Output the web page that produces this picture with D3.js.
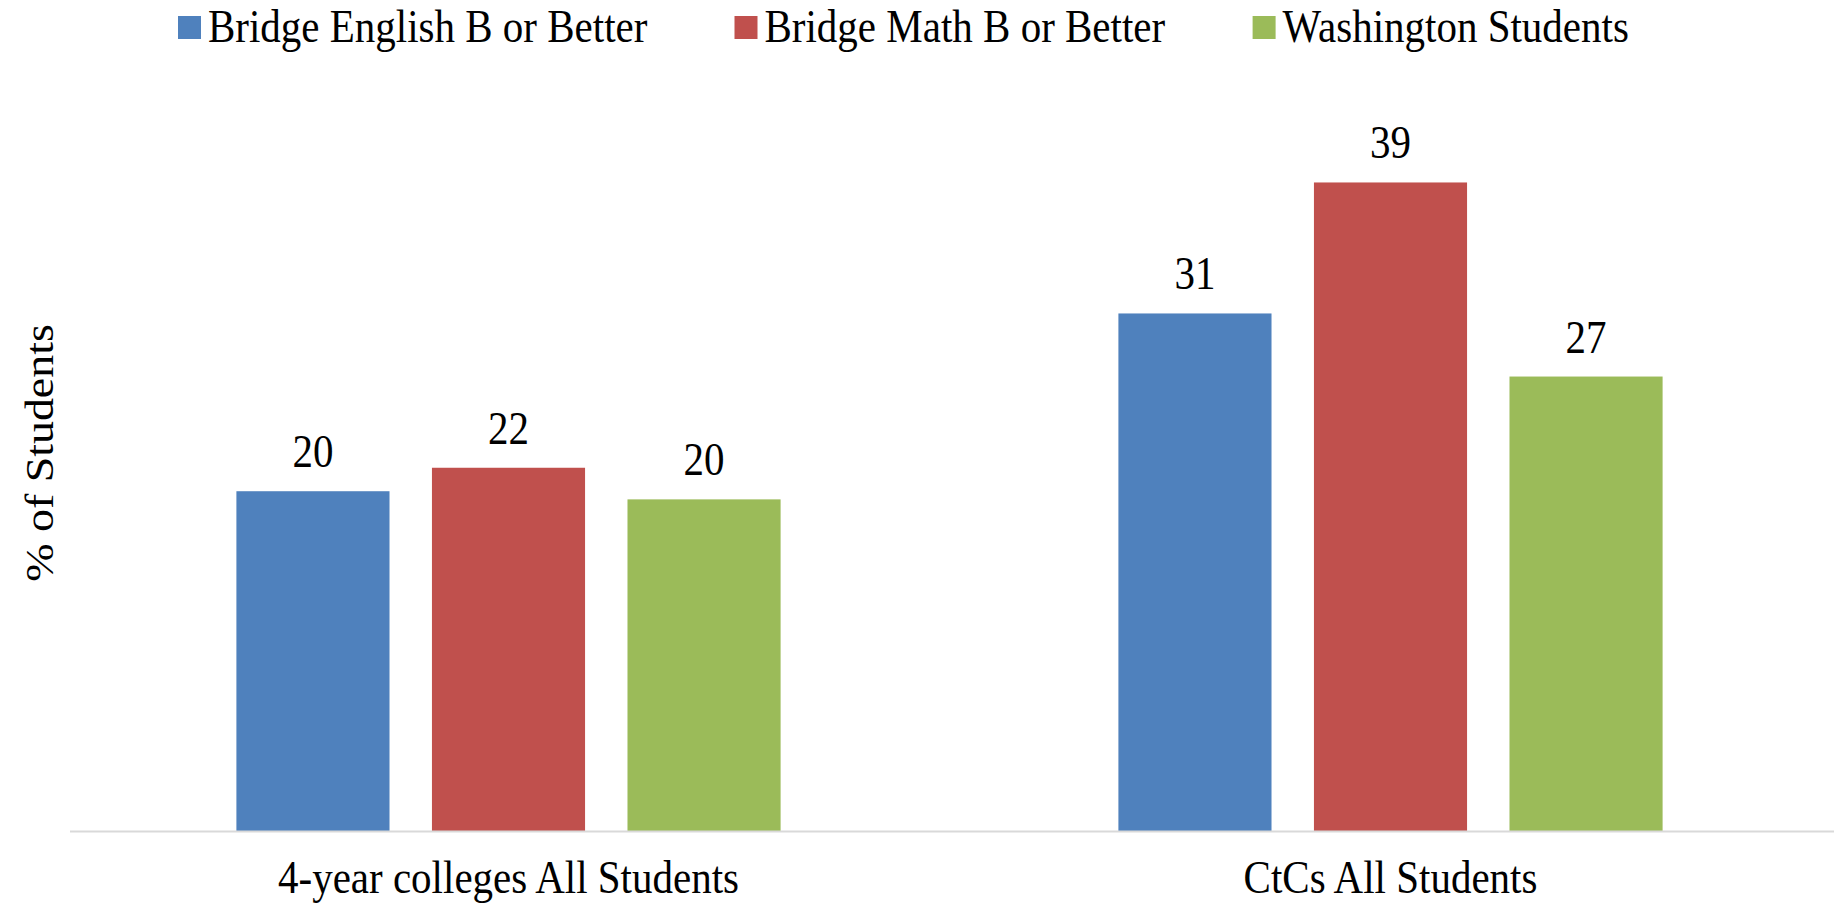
<!DOCTYPE html>
<html>
<head>
<meta charset="utf-8">
<script src="https://cdn.jsdelivr.net/npm/d3@7/dist/d3.min.js"></script>
<style>
  html, body { margin: 0; padding: 0; background: #fff; }
  svg { display: block; }
  text { font-family: "Liberation Serif", "Times New Roman", serif; fill: #000; }
</style>
</head>
<body>
<svg id="chart" width="1834" height="904"></svg>
<script>
// ---- data ----
const categories = ["4-year colleges All Students", "CtCs All Students"];
const seriesNames = ["Bridge English B or Better", "Bridge Math B or Better", "Washington Students"];
const englishValues = [20.45, 31.13];
const mathValues = [21.86, 39.0];
const washingtonValues = [19.96, 27.34];
const seriesColors = ["#4F81BD", "#C0504D", "#9BBB59"];
const yLabel = "% of Students";

const seriesValues = [englishValues, mathValues, washingtonValues];

const W = 1834, H = 904;
const plot = { left: 67.5, right: 1831.5, top: 82.6, bottom: 831.6 };
const axisLine = { x1: 70, x2: 1834 };
const FS = 41, SY = 1.12;

const svg = d3.select("#chart");

const x0 = d3.scaleBand().domain(categories).range([plot.left, plot.right])
  .paddingInner(0.383).paddingOuter(0.1915);
const x1 = d3.scaleBand().domain(seriesNames).range([0, x0.bandwidth()])
  .paddingInner(0.217).paddingOuter(0);
const y = d3.scaleLinear().domain([0, 45]).range([plot.bottom, plot.top]);

// bars
const rows = categories.map((c, ci) => ({
  cat: c,
  vals: seriesNames.map((s, si) => ({ s, si, v: seriesValues[si][ci] }))
}));

const g = svg.append("g");
const groups = g.selectAll("g.grp").data(rows).join("g")
  .attr("class", "grp")
  .attr("transform", d => `translate(${x0(d.cat)},0)`);

groups.selectAll("rect").data(d => d.vals).join("rect")
  .attr("x", d => x1(d.s))
  .attr("y", d => y(d.v))
  .attr("width", x1.bandwidth())
  .attr("height", d => y(0) - y(d.v))
  .attr("fill", d => seriesColors[d.si]);

groups.selectAll("text.val").data(d => d.vals).join("text")
  .attr("class", "val")
  .attr("text-anchor", "middle")
  .attr("font-size", FS)
  .attr("transform", d => `translate(${x1(d.s) + x1.bandwidth() / 2},${y(d.v) - 24}) scale(1,${SY})`)
  .text(d => d3.format(".0f")(d.v));

// x axis
const xAxis = d3.axisBottom(x0).tickSize(0).tickPadding(0);
const ax = svg.append("g").attr("transform", `translate(0,${y(0)})`).call(xAxis);
ax.select(".domain").attr("stroke", "#D9D9D9").attr("stroke-width", 2)
  .attr("d", `M${axisLine.x1},0H${axisLine.x2}`);
ax.selectAll(".tick text")
  .attr("font-size", FS)
  .attr("font-family", "Liberation Serif")
  .attr("fill", "#000")
  .attr("dy", null)
  .attr("y", null)
  .attr("transform", `translate(0,61) scale(1,${SY})`);

// y label
svg.append("text")
  .attr("text-anchor", "middle")
  .attr("font-size", FS)
  .attr("transform", `translate(53,453) rotate(-90) scale(${SY},1)`)
  .text(yLabel);

// legend
const legendX = [178, 734.5, 1252.6];
const leg = svg.append("g").selectAll("g").data(seriesNames).join("g")
  .attr("transform", (d, i) => `translate(${legendX[i]},0)`);
leg.append("rect").attr("x", 0).attr("y", 16).attr("width", 23).attr("height", 23)
  .attr("fill", (d, i) => seriesColors[i]);
leg.append("text").attr("font-size", FS)
  .attr("transform", `translate(30,42) scale(1,${SY})`)
  .text(d => d);
</script>
</body>
</html>
